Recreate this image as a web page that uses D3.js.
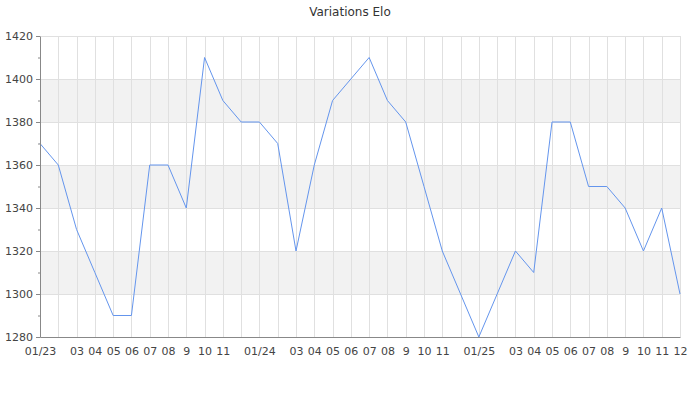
<!DOCTYPE html>
<html>
<head>
<meta charset="utf-8">
<script src="https://cdn.jsdelivr.net/npm/d3@7"></script>
<style>
  body { margin: 0; background: #fff; }
  svg text { font-family: "DejaVu Sans", sans-serif; }
</style>
</head>
<body>
<div id="chart"></div>
<script>
// monthly Elo, Jan 2023 -> Dec 2025
var months = ["2023-01","2023-02","2023-03","2023-04","2023-05","2023-06","2023-07","2023-08","2023-09","2023-10","2023-11","2023-12",
              "2024-01","2024-02","2024-03","2024-04","2024-05","2024-06","2024-07","2024-08","2024-09","2024-10","2024-11","2024-12",
              "2025-01","2025-02","2025-03","2025-04","2025-05","2025-06","2025-07","2025-08","2025-09","2025-10","2025-11","2025-12"];
var elo = [1370,1360,1330,1310,1290,1290,1360,1360,1340,1410,1390,1380,
           1380,1370,1320,1360,1390,1400,1410,1390,1380,1350,1320,1300,
           1280,1300,1320,1310,1380,1380,1350,1350,1340,1320,1340,1300];
var tickLabels = ["01/23","","03","04","05","06","07","08","9","10","11","",
                  "01/24","","03","04","05","06","07","08","9","10","11","",
                  "01/25","","03","04","05","06","07","08","9","10","11","12"];
var yTicks = [1280,1300,1320,1340,1360,1380,1400,1420];
var yMinor = [1290,1310,1330,1350,1370,1390,1410];
var bands = [[1300,1320],[1340,1360],[1380,1400]];

var data = months.map(function(m, i){ return {m: m, v: elo[i]}; });

var margin = {top: 36, right: 20, bottom: 63, left: 40},
    width = 700 - margin.left - margin.right,
    height = 400 - margin.top - margin.bottom;

var svg = d3.select("#chart").append("svg")
    .attr("width", 700)
    .attr("height", 400);

svg.append("text")
    .attr("x", 350)
    .attr("y", 16)
    .attr("text-anchor", "middle")
    .style("font-size", "12px")
    .style("fill", "#333")
    .text("Variations Elo");

var g = svg.append("g")
    .attr("transform", "translate(" + margin.left + "," + margin.top + ")");

var x = d3.scalePoint()
    .domain(months)
    .range([0, width]);
var y = d3.scaleLinear()
    .domain([1280, 1420])
    .range([height, 0]);

// shaded bands
g.selectAll(".band")
    .data(bands)
    .enter().append("rect")
    .attr("x", 0)
    .attr("width", width)
    .attr("y", function(d){ return y(d[1]); })
    .attr("height", function(d){ return y(d[0]) - y(d[1]); })
    .attr("fill", "#f2f2f2");

// grid
g.selectAll(".hgrid")
    .data(yTicks)
    .enter().append("line")
    .attr("x1", 0).attr("x2", width)
    .attr("y1", function(d){ return Math.round(y(d)) + 0.5; })
    .attr("y2", function(d){ return Math.round(y(d)) + 0.5; })
    .attr("stroke", "#e0e0e0");
g.selectAll(".vgrid")
    .data(months)
    .enter().append("line")
    .attr("x1", function(d){ return Math.round(x(d)) + 0.5; })
    .attr("x2", function(d){ return Math.round(x(d)) + 0.5; })
    .attr("y1", 0).attr("y2", height)
    .attr("stroke", "#e0e0e0");

// line
var line = d3.line()
    .x(function(d){ return x(d.m); })
    .y(function(d){ return y(d.v); });
g.append("path")
    .datum(data)
    .attr("fill", "none")
    .attr("stroke", "#6495ed")
    .attr("stroke-width", 1)
    .attr("d", line);

// y axis with minor ticks
g.append("g")
    .call(d3.axisLeft(y).tickValues(yTicks).tickFormat(d3.format("d"))
        .tickSize(4).tickPadding(3).tickSizeOuter(0));
g.append("g")
    .call(d3.axisLeft(y).tickValues(yMinor).tickSize(2).tickFormat("").tickSizeOuter(0))
    .select(".domain").remove();

// x axis
g.append("g")
    .attr("transform", "translate(0," + height + ")")
    .call(d3.axisBottom(x)
        .tickFormat(function(d, i){ return tickLabels[i]; })
        .tickSize(0).tickPadding(10).tickSizeOuter(0));

svg.selectAll(".domain").attr("stroke", "#888");
svg.selectAll(".tick line").attr("stroke", "#888");
svg.selectAll(".tick text")
    .style("font-size", "11px")
    .style("font-family", "DejaVu Sans, sans-serif")
    .attr("fill", "#444");
</script>
</body>
</html>
